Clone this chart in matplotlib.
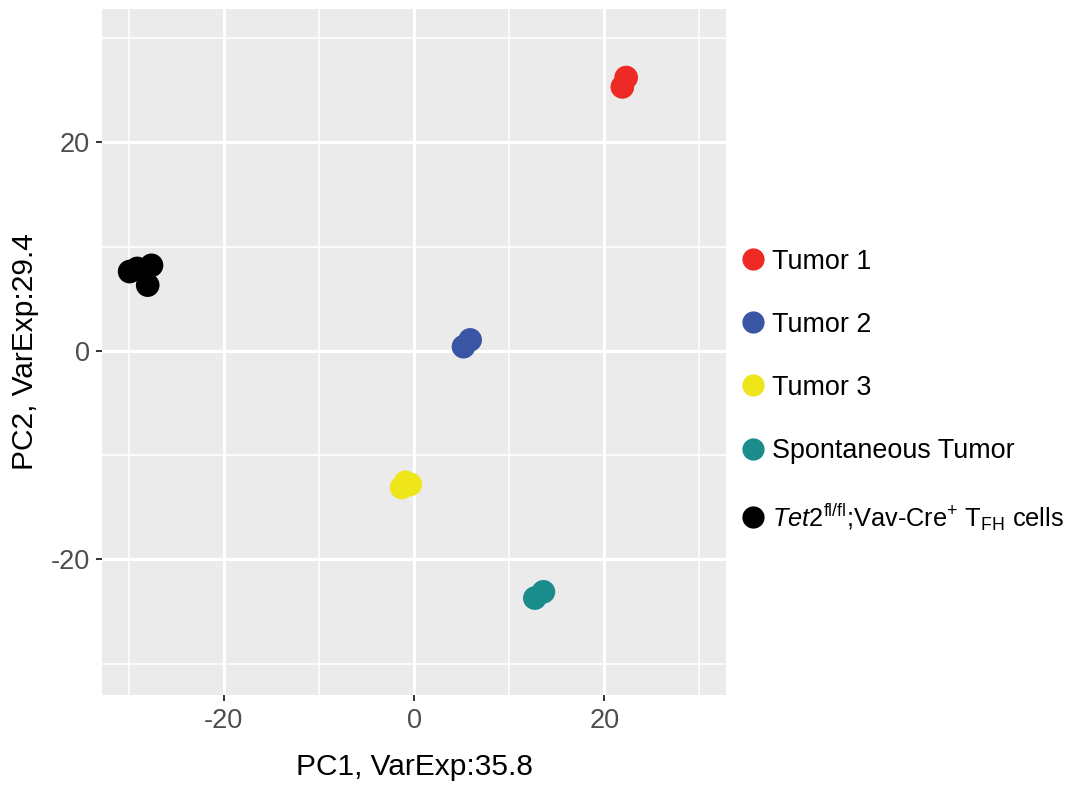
import matplotlib
matplotlib.use("Agg")
import matplotlib.pyplot as plt
from matplotlib.lines import Line2D

plt.rcParams['font.family'] = ['Liberation Sans', 'DejaVu Sans']
plt.rcParams['mathtext.fontset'] = 'custom'
plt.rcParams['mathtext.rm'] = 'Liberation Sans'
plt.rcParams['mathtext.it'] = 'Liberation Sans:italic'
plt.rcParams['axes.unicode_minus'] = False

groups = ["Tumor 1", "Tumor 2", "Tumor 3", "Spontaneous Tumor",
          r"$\it{Tet2}^{\rm fl/fl}$;Vav-Cre$^{+}$ T$_{\rm FH}$ cells"]
colors = ["#EE2A24", "#3A55A4", "#EEE51B", "#1A8C8C", "#000000"]
pc1 = [
    [22.3, 21.9],
    [5.2, 5.9],
    [-1.3, -0.4, -0.9],
    [12.7, 13.6],
    [-29.9, -29.1, -27.6, -28.0],
]
pc2 = [
    [26.2, 25.3],
    [0.4, 1.05],
    [-13.1, -12.8, -12.6],
    [-23.7, -23.1],
    [7.6, 7.9, 8.2, 6.3],
]
xticks = [-20, 0, 20]
yticks = [-20, 0, 20]

fig = plt.figure(figsize=(10.74, 7.89), dpi=100)
ax = fig.add_axes([0.095, 0.119, 0.581, 0.870])
ax.set_facecolor("#EBEBEB")
for s in ax.spines.values():
    s.set_visible(False)

for i in range(len(groups)):
    ax.scatter(pc1[i], pc2[i], s=290, color=colors[i], edgecolors='none', zorder=3)

ax.set_xlim(-32.8, 32.8)
ax.set_ylim(-33.0, 32.8)
ax.set_xticks(xticks)
ax.set_yticks(yticks)
ax.set_xticks([-30, -10, 10, 30], minor=True)
ax.set_yticks([-30, -10, 10, 30], minor=True)
ax.grid(which='major', color='white', linewidth=2.2, zorder=0)
ax.grid(which='minor', color='white', linewidth=1.1, zorder=0)
ax.set_axisbelow(True)
ax.tick_params(which='major', length=4, width=1.4, color='#333333',
               labelsize=19.5, labelcolor='#4D4D4D', pad=5)
ax.tick_params(which='minor', length=0)
ax.set_xlabel("PC1, VarExp:35.8", fontsize=21.5, labelpad=14)
ax.set_ylabel("PC2, VarExp:29.4", fontsize=21.5, labelpad=8)

handles = [Line2D([0], [0], marker='o', linestyle='none', markersize=16,
                  markerfacecolor=c, markeredgecolor='none') for c in colors]
leg = fig.legend(handles, groups, loc='center left',
                 bbox_to_anchor=(0.677, 0.505), frameon=False,
                 fontsize=19.4, labelspacing=1.38, handletextpad=0.15,
                 handlelength=1.1, borderaxespad=0)
leg.get_texts()[4].set_fontsize(18.3)
fig.savefig("out.png", dpi=100)
